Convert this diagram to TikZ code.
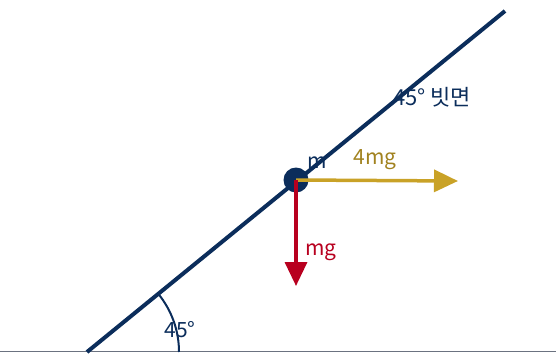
\documentclass[tikz,border=0pt]{standalone}
\usepackage{fontspec}
\setmainfont{Noto Sans CJK KR}
\usetikzlibrary{arrows.meta}
\definecolor{navy}{HTML}{0B2D5B}
\definecolor{gold}{HTML}{C9A227}
\definecolor{fred}{HTML}{B8001F}
\definecolor{ground}{HTML}{6B7280}
\begin{document}
\begin{tikzpicture}[x=1pt,y=-1pt,
  lbl/.style={inner sep=0pt,font=\fontsize{21}{24}\selectfont},
  force/.style={line width=3.5pt,-{Triangle[length=24pt,width=22pt]}}]
\useasboundingbox (0,0) rectangle (556,353);
\coordinate (g0) at (0,351.5);
\coordinate (g1) at (556,351.5);
\draw[ground,line width=1.5pt] (g0) -- (g1);
\coordinate (A) at (87,352);
\coordinate (B) at (505,11);
\draw[navy,line width=4pt] (A) -- (B);
\draw[navy,line width=2pt] (A) ++(-39.3:92) arc[start angle=-39.3,end angle=0,radius=92];
\node[lbl,navy] (ang) at (180,330) {45°};
\node[circle,fill=navy,minimum size=25pt,inner sep=0pt] (m) at (296,180) {};
\coordinate (f1) at (458,181);
\coordinate (f2) at (296,286);
\draw[force,gold] (m.center) -- (f1);
\draw[force,fred] (m.center) -- (f2);
\node[lbl,navy] (ml) at (317,163) {m};
\node[lbl,gold!80!black] (fl) at (375,160) {4mg};
\node[lbl,fred] (wl) at (321,252) {mg};
\node[lbl,navy,font=\fontsize{22}{25}\selectfont] (il) at (432,97) {45° 빗면};
\end{tikzpicture}
\end{document}
